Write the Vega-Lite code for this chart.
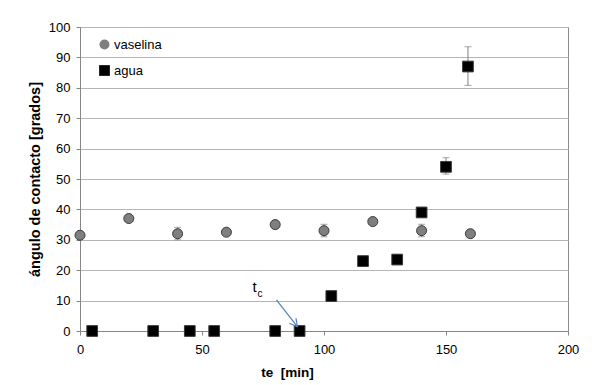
{
  "$schema": "https://vega.github.io/schema/vega-lite/v6.json",
  "width": 488,
  "height": 304,
  "autosize": {"type": "none"},
  "padding": {"left": 80, "top": 27, "right": 24, "bottom": 54},
  "background": "white",
  "config": {
    "font": "Liberation Sans",
    "view": {"stroke": "#8c8c8c", "strokeWidth": 1},
    "axis": {"labelFont": "Liberation Sans", "titleFont": "Liberation Sans", "labelColor": "#000", "titleColor": "#000", "labelOverlap": false},
    "axisY": {
      "values": [0, 10, 20, 30, 40, 50, 60, 70, 80, 90, 100],
      "grid": true,
      "gridColor": "#b5b5b5",
      "titleFontSize": 14.5,
      "titleFontWeight": "bold",
      "titlePadding": 6,
      "labelFontSize": 13,
      "labelPadding": 6,
      "tickSize": 4,
      "tickColor": "#868686",
      "domainColor": "#868686",
      "labelFlush": false,
      "labelOverlap": false
    }
  },
  "datasets": {
    "pts": [
      {"te": 0, "ang": 31.5, "serie": "vaselina"},
      {"te": 20, "ang": 37, "serie": "vaselina"},
      {"te": 40, "ang": 32, "serie": "vaselina"},
      {"te": 60, "ang": 32.5, "serie": "vaselina"},
      {"te": 80, "ang": 35, "serie": "vaselina"},
      {"te": 100, "ang": 33, "serie": "vaselina"},
      {"te": 120, "ang": 36, "serie": "vaselina"},
      {"te": 140, "ang": 33, "serie": "vaselina"},
      {"te": 160, "ang": 32, "serie": "vaselina"},
      {"te": 5, "ang": 0, "serie": "agua"},
      {"te": 30, "ang": 0, "serie": "agua"},
      {"te": 45, "ang": 0, "serie": "agua"},
      {"te": 55, "ang": 0, "serie": "agua"},
      {"te": 80, "ang": 0, "serie": "agua"},
      {"te": 90, "ang": 0, "serie": "agua"},
      {"te": 103, "ang": 11.5, "serie": "agua"},
      {"te": 116, "ang": 23, "serie": "agua"},
      {"te": 130, "ang": 23.5, "serie": "agua"},
      {"te": 140, "ang": 39, "serie": "agua"},
      {"te": 150, "ang": 54, "serie": "agua"},
      {"te": 159, "ang": 87, "serie": "agua"}
    ],
    "err": [
      {"te": 40, "lo": 30, "hi": 34.1},
      {"te": 100, "lo": 31, "hi": 35.1},
      {"te": 140, "lo": 31, "hi": 35.1},
      {"te": 150, "lo": 51.6, "hi": 57},
      {"te": 159, "lo": 80.8, "hi": 93.5}
    ],
    "arrow": [
      {"x": 80.5, "y": 10.2, "x2": 89.15, "y2": 1.32},
      {"x": 88.5, "y": 4.24, "x2": 89.15, "y2": 1.32},
      {"x": 85.8, "y": 2.53, "x2": 89.15, "y2": 1.32}
    ],
    "lbl_t": [{"x": 71.5, "y": 14.5, "txt": "t"}],
    "lbl_c": [{"x": 73.8, "y": 12.3, "txt": "c"}]
  },
  "layer": [
    {
      "data": {"name": "err"},
      "mark": {"type": "rule", "color": "#808080", "strokeWidth": 1},
      "encoding": {
        "x": {"field": "te", "type": "quantitative", "scale": {"domain": [0, 200], "nice": false}},
        "y": {"field": "lo", "type": "quantitative", "scale": {"domain": [0, 100], "nice": false}},
        "y2": {"field": "hi"}
      }
    },
    {
      "data": {"name": "err"},
      "mark": {"type": "tick", "orient": "horizontal", "color": "#808080", "thickness": 1, "size": 7},
      "encoding": {
        "x": {"field": "te", "type": "quantitative"},
        "y": {"field": "lo", "type": "quantitative"}
      }
    },
    {
      "data": {"name": "err"},
      "mark": {"type": "tick", "orient": "horizontal", "color": "#808080", "thickness": 1, "size": 7},
      "encoding": {
        "x": {"field": "te", "type": "quantitative"},
        "y": {"field": "hi", "type": "quantitative"}
      }
    },
    {
      "data": {"name": "pts"},
      "mark": {"type": "point", "filled": true, "opacity": 1, "stroke": "#3a3a3a", "strokeWidth": 1},
      "encoding": {
        "x": {"field": "te", "type": "quantitative", "title": "te \u00a0[min]",
          "axis": {
            "values": [0, 50, 100, 150, 200],
            "grid": false,
            "titleFontSize": 13.5,
            "titleFontWeight": "bold",
            "titleX": 207,
            "titleY": 41,
            "titleAlign": "center",
            "titleBaseline": "middle",
            "labelFontSize": 13,
            "labelPadding": 8,
            "tickSize": 4,
            "tickColor": "#868686",
            "domainColor": "#868686",
            "labelFlush": false,
            "labelOverlap": false
          }},
        "y": {"field": "ang", "type": "quantitative", "title": "ángulo de contacto [grados]"},
        "color": {
          "field": "serie", "type": "nominal",
          "scale": {"domain": ["vaselina", "agua"], "range": ["#7f7f7f", "#000000"]},
          "legend": {
            "title": null,
            "orient": "none",
            "legendX": 18,
            "legendY": 11,
            "labelFontSize": 13,
            "labelFont": "Liberation Sans",
            "symbolSize": 75,
            "rowPadding": 12,
            "labelOffset": 3,
            "symbolStrokeWidth": 0
          }
        },
        "shape": {
          "field": "serie", "type": "nominal",
          "scale": {"domain": ["vaselina", "agua"], "range": ["circle", "square"]}
        },
        "size": {
          "field": "serie", "type": "nominal",
          "scale": {"domain": ["vaselina", "agua"], "range": [100, 115]},
          "legend": null
        }
      }
    },
    {
      "data": {"name": "arrow"},
      "mark": {"type": "rule", "color": "#4f81bd", "strokeWidth": 1.2},
      "encoding": {
        "x": {"field": "x", "type": "quantitative"},
        "y": {"field": "y", "type": "quantitative"},
        "x2": {"field": "x2"},
        "y2": {"field": "y2"}
      }
    },
    {
      "data": {"name": "lbl_t"},
      "mark": {"type": "text", "fontSize": 15, "font": "Liberation Sans", "color": "#000", "align": "center", "baseline": "middle"},
      "encoding": {
        "x": {"field": "x", "type": "quantitative"},
        "y": {"field": "y", "type": "quantitative"},
        "text": {"field": "txt"}
      }
    },
    {
      "data": {"name": "lbl_c"},
      "mark": {"type": "text", "fontSize": 10, "font": "Liberation Sans", "color": "#000", "align": "center", "baseline": "middle"},
      "encoding": {
        "x": {"field": "x", "type": "quantitative"},
        "y": {"field": "y", "type": "quantitative"},
        "text": {"field": "txt"}
      }
    }
  ]
}
